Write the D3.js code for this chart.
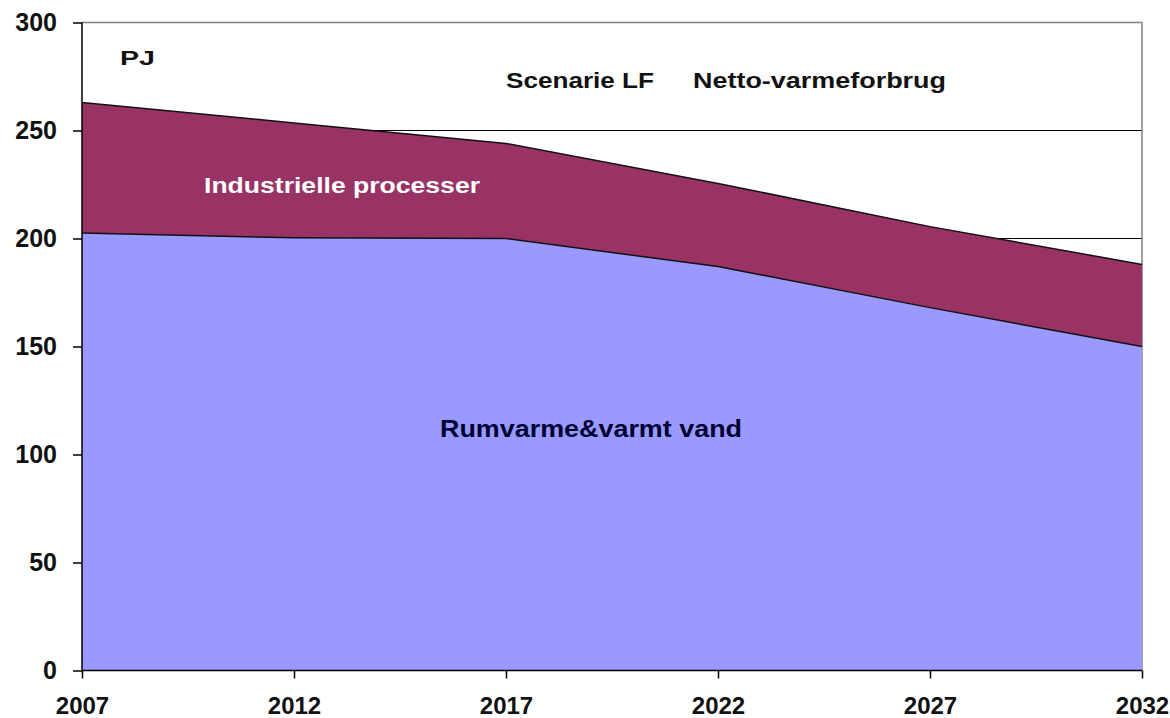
<!DOCTYPE html>
<html>
<head>
<meta charset="utf-8">
<script src="https://cdn.jsdelivr.net/npm/d3@7"></script>
<style>
  body { margin: 0; background: #fff; }
  svg text { font-family: "Liberation Sans", Arial, sans-serif; font-weight: bold; }
</style>
</head>
<body>
<div id="chart"></div>
<script>
// values (PJ)
const years = [2007, 2012, 2017, 2022, 2027, 2032];
const rumvarme = [202.5, 200.3, 200, 187, 168, 150];
const industri = [60.5, 53.2, 44, 38.5, 37.5, 38];
const yTicks = [0, 50, 100, 150, 200, 250, 300];

const width = 1170, height = 718;
const plotLeft = 82, plotRight = 1142, plotTop = 22.5, plotBottom = 670.5;

let svg = d3.select("#chart")
  .append("svg")
  .attr("width", width)
  .attr("height", height);

let x = d3.scaleLinear().domain([2007, 2032]).range([plotLeft, plotRight]);
let y = d3.scaleLinear().domain([0, 300]).range([plotBottom, plotTop]);

let rows = years.map((yr, i) => ({year: yr, rum: rumvarme[i], ind: industri[i]}));
let stacked = d3.stack().keys(["rum", "ind"])(rows);

// gridlines behind the areas
svg.append("g")
  .selectAll("line")
  .data(yTicks.filter(v => v > 0 && v < 300))
  .enter()
    .append("line")
    .attr("x1", plotLeft).attr("x2", plotRight)
    .attr("y1", d => y(d)).attr("y2", d => y(d))
    .attr("stroke", "#000")
    .attr("stroke-width", 1);

// plot frame (top and right in gray)
svg.append("path")
  .attr("d", `M${plotLeft},${plotTop}H${plotRight}V${plotBottom}`)
  .attr("fill", "none")
  .attr("stroke", "#808080")
  .attr("stroke-width", 1.5);

const colors = {rum: "#9999FF", ind: "#993366"};

let area = d3.area()
  .x(d => x(d.data.year))
  .y0(d => y(d[0]))
  .y1(d => y(d[1]));

let line = d3.line()
  .x(d => x(d.data.year))
  .y(d => y(d[1]));

svg.append("g")
  .selectAll("path")
  .data(stacked)
  .enter()
    .append("path")
    .attr("d", area)
    .attr("fill", d => colors[d.key]);

svg.append("g")
  .selectAll("path")
  .data(stacked)
  .enter()
    .append("path")
    .attr("d", line)
    .attr("fill", "none")
    .attr("stroke", "#111")
    .attr("stroke-width", 1.5);

// axes
let yAxis = d3.axisLeft(y).tickValues(yTicks).tickSize(9).tickPadding(16);
let gy = svg.append("g")
  .attr("transform", `translate(${plotLeft},0)`)
  .call(yAxis);

let xAxis = d3.axisBottom(x).tickValues(years).tickFormat(d3.format("d")).tickSize(8).tickPadding(18);
let gx = svg.append("g")
  .attr("transform", `translate(0,${plotBottom})`)
  .call(xAxis);

[gy, gx].forEach(g => {
  g.select(".domain").attr("stroke", "#000").attr("stroke-width", 1.5);
  g.selectAll(".tick line").attr("stroke", "#000").attr("stroke-width", 1.5);
  g.selectAll(".tick text").attr("fill", "#111");
});
gy.selectAll(".tick text").attr("font-size", "25px");
gx.selectAll(".tick text").attr("font-size", "24px");
gy.select(".domain").attr("d", `M0,${plotBottom}V${plotTop}`);
gx.select(".domain").attr("d", `M${plotLeft},0H${plotRight}`);

// labels inside the chart
function label(txt, x0, base, len, size, color) {
  svg.append("text")
    .attr("x", x0)
    .attr("y", base)
    .attr("font-size", size + "px")
    .attr("fill", color)
    .attr("textLength", len)
    .attr("lengthAdjust", "spacingAndGlyphs")
    .text(txt);
}

label("PJ", 120, 65, 35, 20, "#111");
label("Scenarie LF", 506, 88, 148, 22, "#111");
label("Netto-varmeforbrug", 693, 88, 253, 22, "#111");
label("Industrielle processer", 204, 193, 276, 22, "#fff");
label("Rumvarme&varmt vand", 440, 437, 302, 23, "#000033");
</script>
</body>
</html>
